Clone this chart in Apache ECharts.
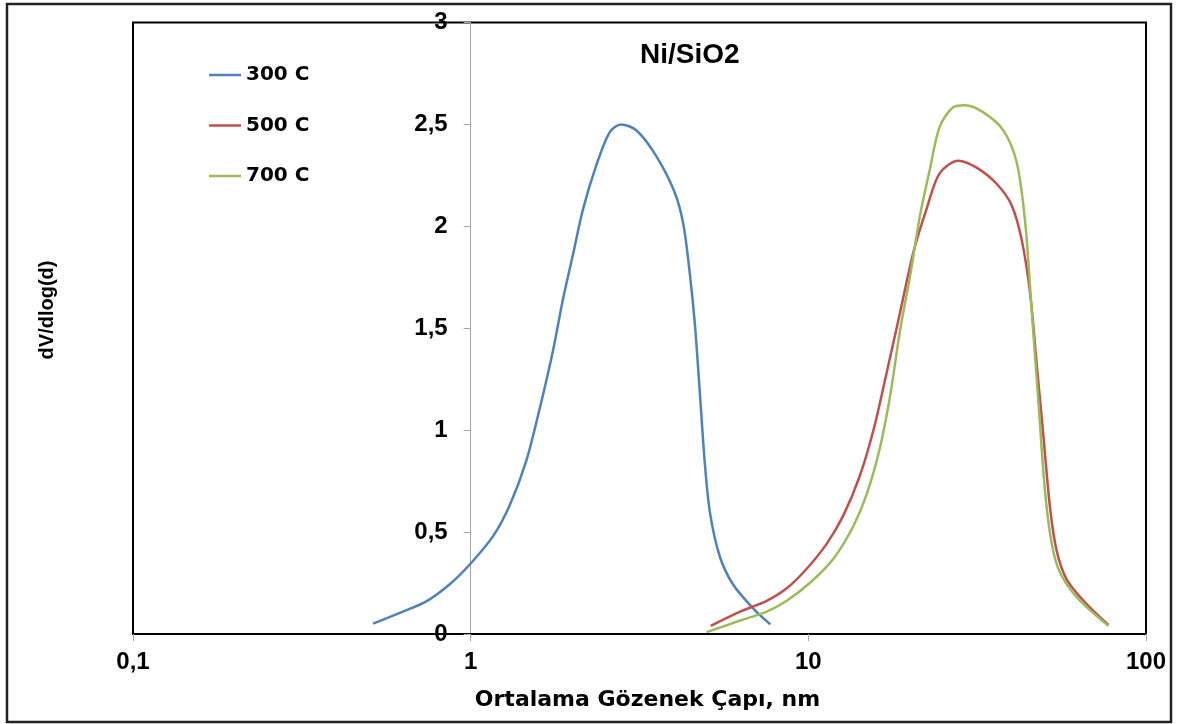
<!DOCTYPE html>
<html>
<head>
<meta charset="utf-8">
<title>Ni/SiO2 – gözenek boyut dağılımı</title>
<script src="https://cdn.jsdelivr.net/npm/echarts@6/dist/echarts.min.js"></script>
<style>
  html, body { margin: 0; padding: 0; background: #ffffff; }
  #chart { width: 1177px; height: 724px; }
</style>
</head>
<body>
<div id="chart"></div>
<script>
// Pore diameter (nm) and dV/dlog(d) for each calcination temperature
const d300 = [0.514, 0.63, 0.739, 0.867, 1.0, 1.165, 1.305, 1.462, 1.60, 1.753, 1.877, 2.01, 2.15, 2.356, 2.58, 2.79, 3.10, 3.55, 4.02, 4.26, 4.45, 4.61, 4.77, 4.93, 5.11, 5.47, 5.98, 6.86, 7.72];
const v300 = [0.051, 0.11, 0.16, 0.244, 0.346, 0.48, 0.632, 0.851, 1.104, 1.39, 1.644, 1.863, 2.082, 2.30, 2.461, 2.50, 2.47, 2.343, 2.166, 2.014, 1.778, 1.526, 1.188, 0.851, 0.598, 0.379, 0.244, 0.126, 0.047];

const d500 = [5.14, 6.28, 7.53, 8.63, 9.89, 11.33, 12.7, 14.2, 15.6, 17.06, 18.7, 20.5, 22.4, 24.5, 27.8, 31.5, 36.1, 40.0, 42.9, 45.4, 47.5, 49.7, 52.0, 54.4, 58.2, 65.3, 77.4];
const v500 = [0.040, 0.110, 0.163, 0.224, 0.32, 0.442, 0.582, 0.775, 1.002, 1.282, 1.579, 1.877, 2.086, 2.261, 2.322, 2.288, 2.209, 2.104, 1.929, 1.667, 1.317, 0.967, 0.617, 0.407, 0.268, 0.163, 0.044];

const d700 = [5.0, 6.28, 7.53, 8.63, 10.1, 11.9, 13.6, 14.9, 16.3, 17.5, 18.7, 20.0, 21.4, 22.9, 24.5, 26.9, 29.1, 33.0, 37.8, 41.4, 43.9, 45.9, 48.0, 50.2, 52.6, 55.6, 62.4, 77.4];
const v700 = [0.009, 0.066, 0.110, 0.163, 0.25, 0.372, 0.53, 0.687, 0.915, 1.177, 1.492, 1.754, 2.051, 2.279, 2.489, 2.585, 2.594, 2.559, 2.471, 2.314, 2.016, 1.579, 1.142, 0.705, 0.442, 0.303, 0.180, 0.040];

const seriesNames = ['300 C', '500 C', '700 C'];
const seriesColors = ['#4F81BD', '#C0504D', '#9BBB59'];
const chartTitle = 'Ni/SiO2';
const xTitle = 'Ortalama Gözenek Çapı, nm';
const yTitle = 'dV/dlog(d)';

const pairs = (xs, ys) => xs.map((x, i) => [x, ys[i]]);
const seriesData = [pairs(d300, v300), pairs(d500, v500), pairs(d700, v700)];

// Decimal comma for tick labels
const comma = v => String(v).replace('.', ',');

const GRID = { left: 133, right: 31, top: 22.5, bottom: 90 };
const plotWidth = 1177 - GRID.left - GRID.right;
// The value axis crosses the log axis at d = 1 (one decade from 0.1 of three)
const yAxisShift = plotWidth / 3;

const chart = echarts.init(document.getElementById('chart'), null, { renderer: 'canvas' });

chart.setOption({
  animation: false,
  backgroundColor: '#ffffff',
  title: {
    text: chartTitle,
    left: 640,
    top: 41,
    padding: 0,
    textStyle: { fontFamily: 'Liberation Sans', fontWeight: 'bold', fontSize: 28, color: '#000' }
  },
  legend: {
    data: seriesNames,
    orient: 'vertical',
    left: 209,
    top: 65,
    padding: 0,
    icon: 'rect',
    itemWidth: 32,
    itemHeight: 2.5,
    itemGap: 30.5,
    textStyle: { fontFamily: 'DejaVu Sans', fontWeight: 'bold', fontSize: 20, lineHeight: 20, color: '#000' }
  },
  grid: {
    left: GRID.left, right: GRID.right, top: GRID.top, bottom: GRID.bottom,
    show: true, borderColor: '#000', borderWidth: 2, backgroundColor: 'transparent'
  },
  xAxis: {
    type: 'log',
    logBase: 10,
    min: 0.1,
    max: 100,
    name: xTitle,
    nameLocation: 'middle',
    nameGap: 55,
    nameTextStyle: { fontFamily: 'DejaVu Sans', fontWeight: 'bold', fontSize: 22, color: '#000', padding: [0, 0, 0, 16] },
    axisLine: { show: true, lineStyle: { color: '#000', width: 2 } },
    axisTick: { show: true, inside: false, length: 7, lineStyle: { color: '#a6a6a6', width: 1 } },
    axisLabel: {
      margin: 16,
      formatter: v => comma(v),
      fontFamily: 'Liberation Sans', fontWeight: 'bold', fontSize: 24, color: '#000'
    },
    splitLine: { show: false },
    minorTick: { show: false }
  },
  yAxis: {
    type: 'value',
    min: 0,
    max: 3,
    interval: 0.5,
    position: 'left',
    offset: -yAxisShift,
    axisLine: { show: true, lineStyle: { color: '#a6a6a6', width: 1 } },
    axisTick: { show: true, inside: false, length: 7, lineStyle: { color: '#a6a6a6', width: 1 } },
    axisLabel: {
      margin: 23,
      formatter: v => comma(v),
      fontFamily: 'Liberation Sans', fontWeight: 'bold', fontSize: 24, color: '#000'
    },
    splitLine: { show: false }
  },
  graphic: [
    {
      type: 'rect',
      shape: { x: 7, y: 4, width: 1164, height: 718 },
      style: { fill: 'none', stroke: '#222', lineWidth: 2.5 },
      silent: true,
      z: 100
    },
    {
      type: 'text',
      x: 47,
      y: 310,
      rotation: Math.PI / 2,
      style: {
        text: yTitle,
        fontFamily: 'Liberation Sans', fontWeight: 'bold', fontSize: 20, fill: '#000',
        align: 'center', verticalAlign: 'middle'
      },
      silent: true
    }
  ],
  series: seriesNames.map((name, i) => ({
    name,
    type: 'line',
    data: seriesData[i],
    smooth: 0.3,
    showSymbol: false,
    symbol: 'none',
    lineStyle: { color: seriesColors[i], width: 2.5 },
    itemStyle: { color: seriesColors[i] },
    z: 3
  }))
});
</script>
</body>
</html>
